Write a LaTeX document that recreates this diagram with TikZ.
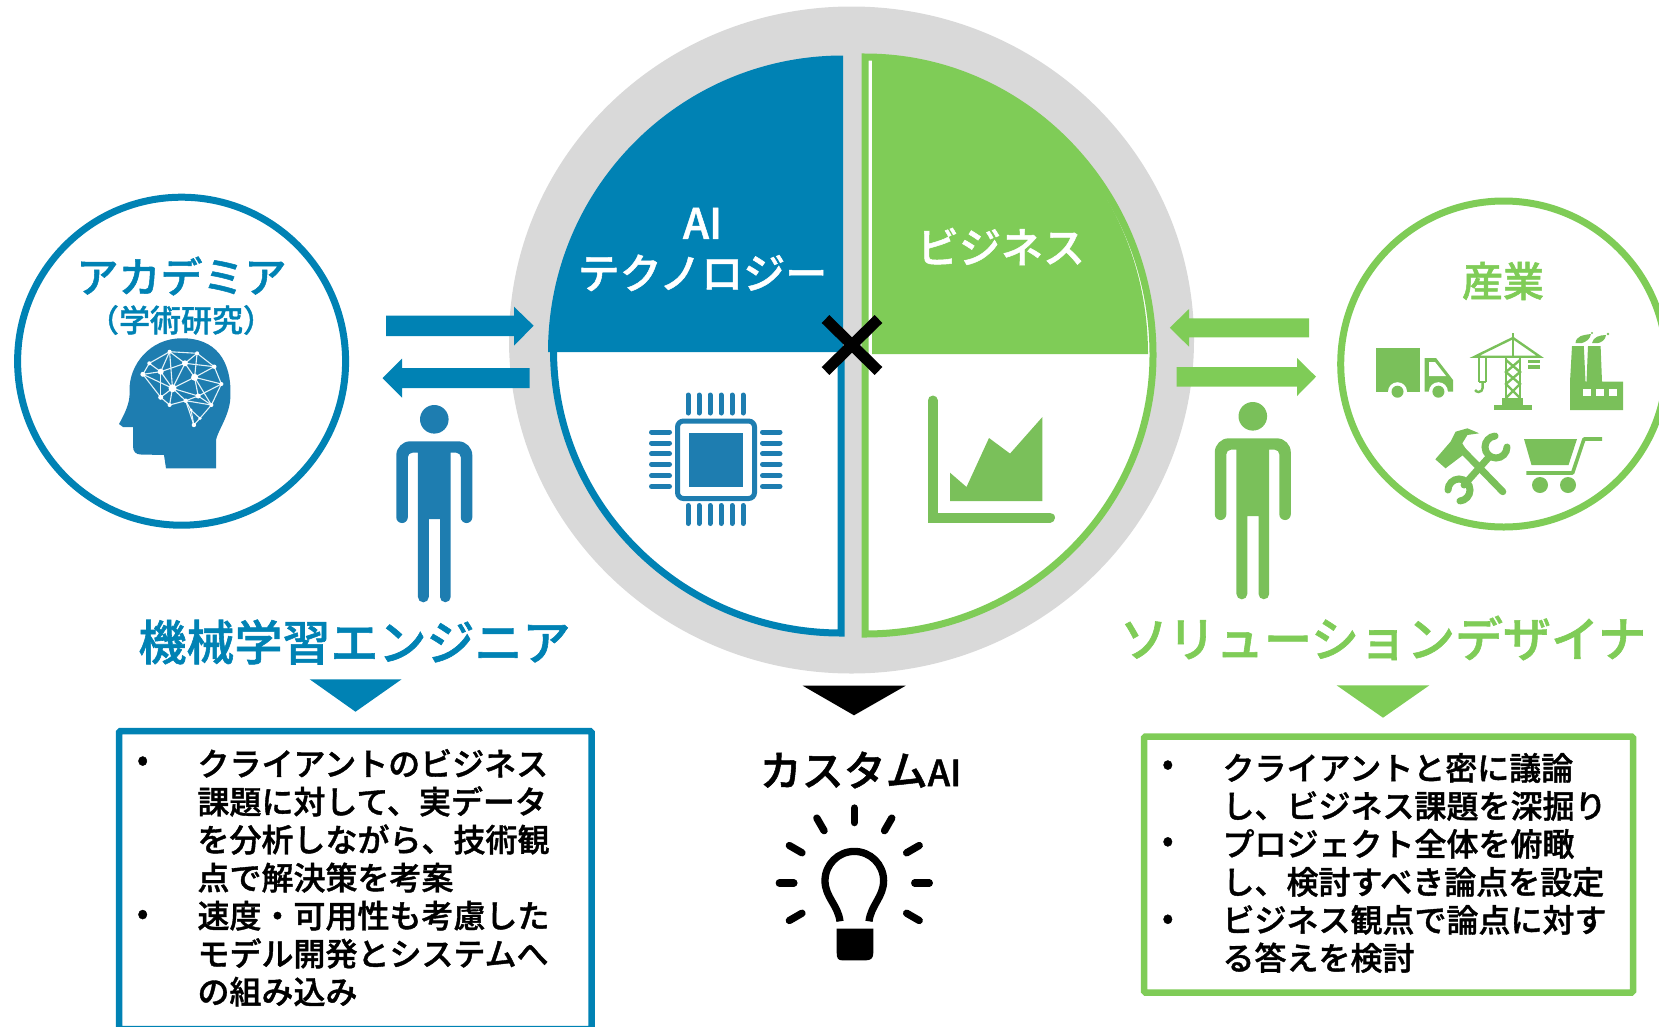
\documentclass[tikz,border=0pt]{standalone}
\usetikzlibrary{calc}
\usepackage{fontspec}
\setmainfont{Noto Sans CJK JP}
\newfontfamily\medf[FakeBold=1.2]{Noto Sans CJK JP Medium}
\definecolor{cblue}{HTML}{0082B4}
\definecolor{cgreen}{HTML}{7FCC57}
\definecolor{iblue}{HTML}{1E7DB0}
\definecolor{igreen}{HTML}{7AC05A}
\definecolor{cgrey}{HTML}{D9D9D9}
\tikzset{
  txt/.style={inner sep=0pt,outer sep=0pt,anchor=center,align=center},
  big/.style={txt,font=\medf\fontsize{42}{50}\selectfont},
  head/.style={txt,font=\medf\fontsize{48}{50}\selectfont},
  body/.style={inner sep=0pt,outer sep=0pt,anchor=north west,align=left,font=\medf\fontsize{32}{38}\selectfont},
  bull/.style={txt,font=\medf\fontsize{32}{32}\selectfont},
  ringline/.style={line width=7pt},
  boxline/.style={line width=6.5pt,fill=white,rounded corners=1.5pt},
  ray/.style={line width=7.3pt,line cap=round,black},
  pin/.style={line width=5pt,line cap=round,iblue},
  pics/person/.style={code={
    \fill (0,0) circle [radius=14.3];
    \fill (-38,36) arc[start angle=180,end angle=270,radius=14] -- (24,22)
      arc[start angle=270,end angle=360,radius=14] -- (38,98)
      arc[start angle=0,end angle=180,radius=5.75] -- (26.5,38)
      arc[start angle=0,end angle=-90,radius=4.6] -- (16.4,33.4) -- (16.4,177.6)
      arc[start angle=0,end angle=180,radius=5.35] -- (5.7,99.7) -- (-5.5,99.7) -- (-5.5,177.6)
      arc[start angle=0,end angle=180,radius=5.45] -- (-16.4,33.4) -- (-21.9,33.4)
      arc[start angle=-90,end angle=-180,radius=4.6] -- (-26.5,98)
      arc[start angle=0,end angle=180,radius=5.75] -- cycle;
  }}
}
\begin{document}
\begin{tikzpicture}[x=1pt,y=-1pt]
\useasboundingbox (0,0) rectangle (1659,1026);
\clip (0,0) rectangle (1659,1026);
% grey disc
\fill[cgrey] (851.5,340) ellipse [x radius=342.5,y radius=333.5];
% blue quadrants
\fill[white] (841,352) -- (553.5,352) arc[start angle=180,end angle=90,x radius=287.5,y radius=281] -- cycle;
\draw[cblue,ringline,line join=miter] (553.5,350) arc[start angle=180,end angle=90,x radius=287.5,y radius=283] -- (841,350);
\fill[cblue] (843,352) -- (548,352) arc[start angle=180,end angle=270,x radius=295,y radius=296.5] -- cycle;
% green quadrants
\fill[white] (865,57) arc[start angle=270,end angle=360,x radius=288,y radius=298] arc[start angle=0,end angle=90,x radius=288,y radius=279] -- cycle;
\draw[cgreen,ringline,line join=miter] (865,57) arc[start angle=270,end angle=360,x radius=288,y radius=298] arc[start angle=0,end angle=90,x radius=288,y radius=279] -- cycle;
\fill[cgreen] (872,354) -- (872,59) arc[start angle=270,end angle=360,x radius=276,y radius=295] -- cycle;
% cross
\draw[black,line width=11pt] (825.5,319) -- (878.5,371);
\draw[black,line width=11pt] (878.5,319) -- (825.5,371);
% quadrant labels
\node[big,white] (ai) at (702.5,249.5) {AI\\テクノロジー};
\node[big,white] (biz) at (1001,246.5) {ビジネス};
% chip
\draw[iblue,line width=5pt,rounded corners=6pt] (677.5,421) rectangle (754.5,498.5);
\fill[iblue] (689,433) rectangle (742.5,486.5);
\foreach \px in {688,699,710,721,732,743}{
  \draw[pin] (\px,395) -- (\px,413);
  \draw[pin] (\px,505.5) -- (\px,523.5);
}
\foreach \py in {432,443,453.6,464.4,475.7,486.5}{
  \draw[pin] (651.5,\py) -- (669.5,\py);
  \draw[pin] (762.5,\py) -- (780,\py);
}
% chart
\draw[igreen,line width=10pt,line cap=round,line join=miter] (932.6,400.5) -- (932.6,517.5) -- (1050,517.5);
\fill[igreen] (950,472.7) -- (966.5,487) -- (989,438) -- (1010,453.6) -- (1042.4,417) -- (1042.4,501) -- (950,501) -- cycle;
% left circle
\draw[cblue,ringline] (181.6,361.2) circle [radius=164];
\node[big,cblue] (aca) at (181.5,276) {アカデミア};
\node[txt,cblue,font=\medf\fontsize{31}{31}\selectfont] (acasub) at (181,320) {（学術研究）};
% head icon
\fill[iblue] (216,440) .. controls (218,430) and (230,415) .. (230.4,396.7)
  .. controls (232,360) and (215,338) .. (182,338.3)
  .. controls (150,338) and (129,365) .. (129.6,390)
  .. controls (130,400) and (128,408) .. (119,424)
  -- (123,427) -- (133,427) -- (133,446)
  .. controls (133,452) and (136,454.5) .. (141,454.5)
  -- (164,455) -- (166,468.3) -- (216,468.3) -- cycle;
\foreach \n/\xx/\yy in {a/169.6/351.7,b/197.1/353.3,c/214.3/366.7,d/221.4/384,e/211.4/405,f/198.2/396,g/185.7/400.7,h/169.6/405,i/160.7/397.3,j/142.9/374.3,k/149.3/363.3,l/160.7/371.7,m/185/363.3,n/194.6/377.3,o/172.5/388.3,p/200/418.3,q/193.9/425,r/191/410}
  \coordinate (br\n) at (\xx,\yy);
\foreach \s/\t in {a/b,a/k,a/l,a/m,a/o,b/c,b/m,b/n,c/d,c/n,c/m,d/e,d/f,d/n,e/f,e/g,f/n,f/g,f/o,g/h,g/r,g/o,h/i,h/o,i/j,i/l,i/o,j/k,j/l,j/o,k/l,l/m,l/o,m/n,m/o,n/o,n/e,r/p,r/q,p/q,p/e,g/q}
  \draw[white!90!cblue,line width=1.1pt] (br\s) -- (br\t);
\foreach \n/\rr in {a/2,b/2,c/2.2,d/2,e/2,f/2.5,g/2.2,h/2,i/2.5,j/2.5,k/2,l/3,m/3,n/3.5,o/4,p/1.8,q/2.2,r/1.6}
  \fill[white] (br\n) circle [radius=\rr];
% blue arrows
\fill[cblue] (386,315.7) -- (514,315.7) -- (514,306.7) -- (533.6,325.7) -- (514,345.7) -- (514,336) -- (386,336) -- cycle;
\fill[cblue] (529.6,368) -- (402,368) -- (402,358.7) -- (382.5,378) -- (402,397.7) -- (402,388) -- (529.6,388) -- cycle;
% blue person
\path pic[iblue] at (434.3,419.3) {person};
% blue heading, triangle, box
\node[head,cblue] (mle) at (354.5,642) {機械学習エンジニア};
\fill[cblue] (309.7,679.3) -- (401.6,679.3) -- (355.5,711.7) -- cycle;
\draw[cblue,boxline] (119,731) rectangle (591.5,1029);
\node[body] (mlebody) at (197.5,749) {クライアントのビジネス\\課題に対して、実データ\\を分析しながら、技術観\\点で解決策を考案\\速度・可用性も考慮した\\モデル開発とシステムへ\\の組み込み};
\node[bull] (bl1) at (142.7,763.5) {•};
\node[bull] (bl2) at (142.7,917) {•};
% green arrows
\fill[cgreen] (1309,318.3) -- (1189,318.3) -- (1189,309) -- (1169.8,327.7) -- (1189,346.7) -- (1189,337.3) -- (1309,337.3) -- cycle;
\fill[cgreen] (1176.6,367) -- (1297,367) -- (1297,358) -- (1316,376.7) -- (1297,396) -- (1297,386.7) -- (1176.6,386.7) -- cycle;
% green person
\path pic[igreen] at (1252.8,416.3) {person};
% right circle
\draw[cgreen,ringline] (1503.7,364) circle [radius=163];
\node[txt,cgreen,font=\medf\fontsize{41}{41}\selectfont] (ind) at (1503,281) {産業};
% truck
\fill[igreen] (1375.6,347.7) rectangle (1419.5,391.7);
\fill[igreen] (1424.5,358) -- (1436,358) -- (1453,380) -- (1453,391.7) -- (1424.5,391.7) -- cycle;
\fill[white] (1429,362) -- (1435,362) -- (1446,376) -- (1429,376) -- cycle;
\foreach \wx in {1397.5,1438.4}{
  \fill[white] (\wx,391.7) circle [radius=9.5];
  \fill[igreen] (\wx,391.7) circle [radius=6];
}
% crane
\begin{scope}[igreen,line width=2.4pt]
  \fill (1493.7,405) rectangle (1531.5,410);
  \fill (1502,398) rectangle (1523,405);
  \draw (1474.8,356.7) -- (1513,338) -- (1540,356.7) -- cycle;
  \draw (1513,333) -- (1513,356.7);
  \draw (1506,357) -- (1506,400) (1520,357) -- (1520,400);
  \draw (1506,360) -- (1520,372) -- (1506,384) -- (1520,398);
  \draw (1520,360) -- (1506,372) -- (1520,384) -- (1506,398);
  \draw (1479,358) -- (1479,382) (1486,358) -- (1486,382) (1479,382) -- (1486,382);
  \draw (1482.6,382) -- (1482.6,388) arc[start angle=0,end angle=150,radius=4];
  \fill (1528,360) rectangle (1540,363);
  \fill (1528,365) rectangle (1540,369);
\end{scope}
% factory
\fill[igreen] (1570,381.7) -- (1572,346) -- (1583.8,346) -- (1585.5,381.7) -- (1586.5,381.7) -- (1588,346) -- (1600.6,346) -- (1602,381.7) -- (1623,381.7) -- (1623,410) -- (1570,410) -- cycle;
\foreach \wx in {1583,1596,1609}
  \fill[white] (\wx,388.5) rectangle +(8,7.5);
\fill[igreen] (1575.5,343) .. controls (1576,336) and (1583,335) .. (1591,334) .. controls (1590,340) and (1585,342) .. (1582,343) -- cycle;
\fill[igreen] (1592,343) .. controls (1593,337) and (1600,335) .. (1606,335) .. controls (1606,340) and (1600,343) .. (1598,343) -- cycle;
\fill[igreen] (1608,334) circle [radius=1.4] (1592,333) circle [radius=1.2];
% tools
\begin{scope}[igreen]
  \draw[line width=7pt,line cap=round] (1459,446.7) -- (1502.8,491.7);
  \fill (1435.3,459.3) -- (1450.5,441.7) -- (1455.6,431.7) -- (1467.4,428.3) -- (1479.2,433.3) -- (1467.4,435) -- (1462.3,443.3) -- (1467.4,451.7) -- (1445.5,468.3) -- cycle;
  \draw[line width=7pt,line cap=round] (1489.3,456.7) -- (1464,485);
  \draw[line width=7pt,line cap=round] (1507,447) arc[start angle=0,end angle=265,radius=11];
  \draw[line width=7pt,line cap=round] (1448,490) arc[start angle=180,end angle=445,radius=11];
\end{scope}
% cart
\begin{scope}[igreen]
  \fill (1524,439) -- (1577,439) -- (1568.5,465) -- (1531.5,465) -- cycle;
  \draw[line width=3.6pt,line join=round] (1602,439) -- (1584,439) -- (1572.6,473) -- (1526.4,473);
  \fill (1540,485) circle [radius=8] (1568,485) circle [radius=8];
\end{scope}
% green heading, triangle, box
\node[head,cgreen] (sold) at (1383,638) {ソリューションデザイナ};
\fill[cgreen] (1336.6,685.3) -- (1429.4,685.3) -- (1383,717.7) -- cycle;
\draw[cgreen,boxline] (1144,736.5) rectangle (1633,992.5);
\node[body] (soldbody) at (1222.5,753) {クライアントと密に議論\\し、ビジネス課題を深掘り\\プロジェクト全体を俯瞰\\し、検討すべき論点を設定\\ビジネス観点で論点に対す\\る答えを検討};
\node[bull] (br1) at (1167.8,767.5) {•};
\node[bull] (br2) at (1167.8,844.3) {•};
\node[bull] (br3) at (1167.8,921.7) {•};
% centre result
\fill[black] (802.7,685.7) -- (905.7,685.7) -- (854,715.3) -- cycle;
\node[txt,font=\medf\fontsize{42}{42}\selectfont] (cai) at (860.5,770) {カスタム{\fontsize{36}{36}\selectfont AI}};
% bulb
\foreach \ang in {0,30,150,180,210,240,270,300,330}{
  \draw[ray] ($(854.3,883)+(\ang:60.4)$) -- ($(854.3,883)+(\ang:75)$);
}
\draw[black,line width=7.3pt] (840,921.3) .. controls (838,905) and (825,897) .. (825,880.7)
  arc[start angle=180,end angle=360,radius=29.3]
  .. controls (883.6,897) and (871,905) .. (869,921.3);
\fill[black] (836.7,928.7) -- (873.3,928.7) -- (873.3,953) .. controls (873.3,958) and (871,960.3) .. (866,960.3) -- (842,960.3) .. controls (838,960.3) and (836.7,958) .. (836.7,953) -- cycle;
\end{tikzpicture}
\end{document}
